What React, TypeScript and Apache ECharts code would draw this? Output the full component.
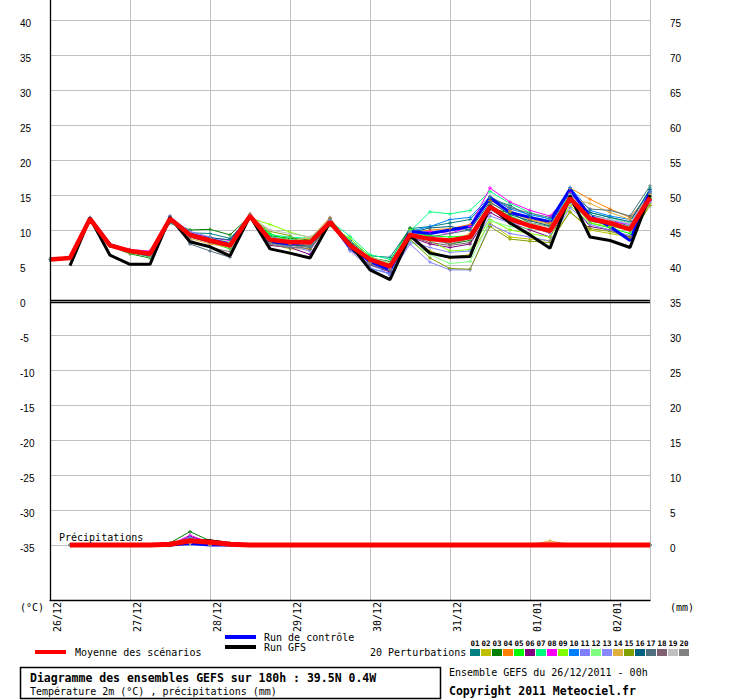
import React, { useEffect, useRef } from "react";
import * as echarts from "echarts";

// ---- time axis: 0..180h every 6h ----
const STEP_HOURS = 6;
const dayLabels = ["26/12", "27/12", "28/12", "29/12", "30/12", "31/12", "01/01", "02/01"];

// ---- main runs: 2m temperature (°C) ----
const meanTemp = [5.8, 6.0, 11.6, 7.8, 7.0, 6.6, 11.6, 9.3, 8.5, 7.8, 12.0, 8.6, 8.3, 8.2, 11.1, 7.8, 5.8, 4.8, 9.3, 8.7, 8.5, 9.0, 13.3, 11.6, 10.6, 9.9, 14.5, 11.6, 11.0, 10.1, 14.6];
const controlTemp = [5.8, 6.0, 11.7, 7.9, 7.0, 6.5, 11.5, 9.4, 8.6, 8.0, 12.1, 8.4, 8.0, 8.3, 11.2, 7.5, 5.5, 4.3, 9.8, 9.5, 10.0, 10.5, 14.6, 12.5, 11.8, 11.2, 15.8, 12.0, 10.5, 8.5, 15.5];
const gfsTemp = [null, 4.9, 11.7, 6.4, 5.1, 5.1, 11.8, 8.3, 7.6, 6.3, 12.0, 7.3, 6.7, 6.0, 11.1, 8.0, 4.3, 2.9, 9.2, 6.7, 6.1, 6.2, 13.5, 11.0, 9.3, 7.4, 14.9, 9.0, 8.5, 7.5, 15.0];

// ---- main runs: precipitation (mm) ----
const meanPrecip = [null, 0, 0, 0, 0, 0, 0.1, 0.6, 0.4, 0.1, 0, 0, 0, 0, 0, 0, 0, 0, 0, 0, 0, 0, 0, 0, 0, 0.05, 0, 0, 0, 0, 0];
const controlPrecip = [null, 0, 0, 0, 0, 0, 0, 0.2, 0, 0, 0, 0, 0, 0, 0, 0, 0, 0, 0, 0, 0, 0, 0, 0, 0, 0, 0, 0, 0, 0, 0];
const gfsPrecip = [null, 0, 0, 0, 0, 0, 0, 0.5, 0.6, 0.2, 0, 0, 0, 0, 0, 0, 0, 0, 0, 0, 0, 0, 0, 0, 0, 0, 0, 0, 0, 0, 0];

// ---- 20 perturbations ----
const memberNames = ["01", "02", "03", "04", "05", "06", "07", "08", "09", "10", "11", "12", "13", "14", "15", "16", "17", "18", "19", "20"];
const memberColors = ["#008080", "#c0c000", "#008000", "#ff8000", "#00ff00", "#800080", "#00ff80", "#ff00ff", "#80ff00", "#0080ff", "#8080ff", "#80ff80", "#8888ff", "#e0b040", "#80a000", "#006080", "#507080", "#806070", "#c0c0c0", "#808080"];

const p01Temp = [5.8, 6.0, 11.6, 7.8, 6.9, 6.4, 11.0, 9.6, 9.5, 8.8, 11.8, 9.0, 8.6, 8.5, 11.0, 8.5, 6.3, 6.1, 10.2, 10.5, 11.0, 11.5, 14.5, 13.5, 12.0, 10.8, 15.0, 12.2, 11.5, 10.5, 15.5];
const p02Temp = [5.8, 6.0, 11.6, 7.9, 7.0, 6.5, 11.5, 9.0, 8.3, 7.8, 12.1, 8.0, 7.3, 7.3, 11.2, 8.0, 5.5, 4.6, 9.0, 7.0, 6.0, 6.5, 11.0, 9.0, 8.7, 8.5, 12.6, 10.0, 9.5, 9.0, 13.8];
const p03Temp = [5.8, 6.0, 11.7, 7.7, 6.6, 6.0, 11.2, 10.0, 10.1, 9.3, 12.0, 9.2, 8.8, 8.6, 10.8, 8.3, 6.0, 5.5, 10.3, 9.0, 8.0, 8.5, 13.0, 12.5, 11.0, 10.5, 14.0, 11.5, 11.0, 10.0, 14.8];
const p04Temp = [5.8, 6.0, 11.6, 7.8, 7.0, 6.7, 11.7, 9.4, 8.6, 7.9, 12.3, 8.8, 8.0, 8.7, 11.8, 7.8, 5.2, 4.8, 9.6, 10.0, 10.2, 10.8, 14.2, 12.8, 11.5, 11.0, 16.0, 14.4, 13.0, 11.8, 15.2];
const p05Temp = [5.8, 6.0, 11.5, 7.8, 6.8, 6.3, 11.4, 9.2, 8.2, 7.3, 11.9, 9.5, 8.5, 8.0, 10.9, 8.0, 5.8, 5.0, 9.5, 9.2, 9.0, 9.2, 13.5, 12.0, 10.8, 10.0, 14.8, 11.0, 10.3, 9.5, 14.5];
const p06Temp = [5.8, 6.0, 11.6, 7.9, 7.1, 6.8, 11.8, 9.0, 8.2, 7.6, 11.8, 7.8, 7.5, 6.5, 11.0, 7.2, 5.0, 4.0, 9.0, 8.0, 7.5, 8.0, 12.5, 11.0, 10.0, 9.0, 14.0, 10.5, 10.0, 9.0, 14.2];
const p07Temp = [5.8, 6.0, 11.6, 7.8, 6.9, 6.5, 11.6, 9.5, 8.8, 8.2, 12.0, 9.3, 9.0, 8.8, 11.3, 9.1, 6.5, 5.8, 9.8, 12.6, 12.3, 12.8, 15.5, 13.8, 12.5, 11.5, 15.0, 12.5, 11.8, 11.0, 16.0];
const p08Temp = [5.8, 6.0, 11.7, 7.9, 7.2, 7.0, 11.9, 9.6, 8.9, 8.5, 12.2, 8.5, 8.2, 8.4, 11.4, 7.6, 5.3, 4.5, 9.4, 9.8, 9.5, 10.5, 16.0, 14.0, 12.8, 12.0, 15.3, 12.0, 11.2, 10.8, 15.8];
const p09Temp = [5.8, 6.0, 11.5, 7.7, 6.7, 6.2, 11.3, 9.3, 8.6, 8.0, 11.7, 10.8, 9.7, 8.9, 10.6, 8.8, 6.2, 5.2, 10.0, 8.5, 7.0, 7.2, 11.5, 10.0, 9.5, 9.0, 13.5, 11.0, 10.5, 10.0, 14.6];
const p10Temp = [5.8, 6.0, 11.6, 7.8, 6.9, 6.4, 11.5, 9.2, 8.4, 7.7, 12.1, 8.3, 8.1, 7.5, 11.0, 7.5, 4.5, 3.8, 9.8, 10.5, 11.5, 11.8, 14.8, 13.0, 12.2, 11.6, 16.1, 12.8, 12.0, 11.5, 15.4];
const p11Temp = [5.8, 6.0, 11.7, 7.9, 7.0, 6.6, 11.8, 9.8, 9.0, 8.0, 12.0, 8.5, 8.0, 8.0, 11.4, 8.2, 5.4, 3.5, 8.0, 5.4, 4.3, 4.3, 10.8, 9.5, 9.0, 8.4, 13.2, 10.8, 10.0, 9.2, 14.0];
const p12Temp = [5.8, 6.0, 11.6, 7.8, 6.8, 6.1, 11.2, 9.1, 8.7, 8.3, 12.0, 8.9, 8.6, 8.2, 10.9, 8.6, 5.9, 4.8, 8.4, 6.5, 5.2, 5.5, 11.3, 10.5, 10.2, 10.0, 14.0, 11.2, 10.8, 10.5, 15.0];
const p13Temp = [5.8, 6.0, 11.7, 7.8, 7.1, 6.9, 11.9, 9.7, 8.6, 7.5, 11.9, 8.1, 7.7, 7.0, 11.3, 7.0, 4.6, 3.7, 8.3, 7.5, 6.8, 7.0, 12.0, 11.0, 10.6, 9.5, 15.0, 12.0, 11.5, 10.8, 15.6];
const p14Temp = [5.8, 6.0, 11.6, 7.9, 7.0, 6.7, 11.6, 8.8, 8.0, 7.5, 12.2, 8.7, 8.4, 8.9, 11.6, 8.0, 5.2, 4.4, 9.2, 9.0, 8.2, 9.5, 13.8, 12.6, 11.4, 10.8, 14.5, 13.8, 12.5, 11.5, 15.0];
const p15Temp = [5.8, 6.0, 11.6, 7.8, 6.8, 6.3, 11.4, 9.1, 8.5, 7.8, 11.8, 9.8, 9.2, 7.3, 10.8, 7.8, 5.5, 4.7, 8.7, 6.0, 4.5, 4.4, 10.5, 8.7, 8.4, 8.2, 12.6, 10.2, 9.8, 9.0, 13.5];
const p16Temp = [5.8, 6.0, 11.6, 7.8, 6.9, 6.5, 11.5, 9.3, 8.9, 8.6, 12.0, 8.2, 7.8, 7.8, 10.7, 8.4, 5.9, 5.0, 9.6, 10.3, 10.5, 10.0, 14.0, 12.2, 11.3, 10.6, 14.6, 12.5, 11.8, 11.2, 15.8];
const p17Temp = [5.8, 6.0, 11.8, 7.8, 6.8, 6.2, 12.0, 8.0, 7.0, 6.1, 12.1, 8.2, 7.5, 7.6, 11.7, 7.3, 5.0, 4.2, 9.3, 9.0, 9.5, 10.0, 14.8, 13.2, 12.4, 11.8, 15.2, 13.0, 12.8, 12.0, 16.3];
const p18Temp = [5.8, 6.0, 11.6, 7.9, 7.0, 6.6, 11.7, 9.0, 8.3, 7.6, 12.1, 8.4, 7.9, 7.2, 11.1, 7.7, 5.6, 4.6, 9.1, 8.2, 7.8, 8.2, 13.2, 11.8, 10.8, 9.8, 14.2, 11.3, 10.7, 10.0, 14.4];
const p19Temp = [5.8, 6.0, 11.6, 7.8, 6.9, 6.4, 11.6, 9.4, 8.8, 8.2, 12.0, 10.0, 9.5, 9.0, 10.9, 8.2, 6.0, 5.4, 9.7, 8.8, 8.5, 8.7, 12.8, 11.5, 11.0, 10.4, 15.0, 12.0, 11.5, 11.0, 15.0];
const p20Temp = [5.8, 6.0, 11.7, 7.9, 7.1, 6.6, 11.8, 8.6, 7.5, 6.9, 12.2, 8.0, 7.4, 7.8, 11.5, 8.3, 5.2, 4.4, 9.0, 8.6, 8.0, 8.8, 13.0, 11.2, 10.5, 9.6, 14.3, 11.5, 11.0, 10.4, 15.2];

const p01Precip = [null, 0, 0, 0, 0, 0, 0, 1.2, 0.4, 0, 0, 0, 0, 0, 0, 0, 0, 0, 0, 0, 0, 0, 0, 0, 0, 0, 0, 0, 0, 0, 0];
const p02Precip = [null, 0, 0, 0, 0, 0, 0, 0.3, 0, 0, 0, 0, 0, 0, 0, 0, 0, 0, 0, 0, 0, 0, 0, 0, 0, 0, 0, 0, 0, 0, 0];
const p03Precip = [null, 0, 0, 0, 0, 0, 0.3, 1.9, 0.6, 0.2, 0, 0, 0, 0, 0, 0, 0, 0, 0, 0, 0, 0, 0, 0, 0, 0, 0, 0, 0, 0, 0];
const p04Precip = [null, 0, 0, 0, 0, 0, 0, 0.8, 0.3, 0, 0, 0, 0, 0, 0, 0, 0, 0, 0, 0, 0, 0, 0, 0, 0, 0, 0, 0, 0, 0, 0];
const p05Precip = [null, 0, 0, 0, 0, 0, 0, 0.5, 0, 0, 0, 0, 0, 0, 0, 0, 0, 0, 0, 0, 0, 0, 0, 0, 0, 0, 0, 0, 0, 0, 0];
const p06Precip = [null, 0, 0, 0, 0, 0, 0, 1.2, 0.5, 0, 0, 0, 0, 0, 0, 0, 0, 0, 0, 0, 0, 0, 0, 0, 0, 0, 0, 0, 0, 0, 0];
const p07Precip = [null, 0, 0, 0, 0, 0, 0, 0.4, 0, 0, 0, 0, 0, 0, 0, 0, 0, 0, 0, 0, 0, 0, 0, 0, 0, 0, 0, 0, 0, 0, 0];
const p08Precip = [null, 0, 0, 0, 0, 0, 0, 1.4, 0.3, 0, 0, 0, 0, 0, 0, 0, 0, 0, 0, 0, 0, 0, 0, 0, 0, 0, 0, 0, 0, 0, 0];
const p09Precip = [null, 0, 0, 0, 0, 0, 0, 0.6, 0, 0, 0, 0, 0, 0, 0, 0, 0, 0, 0, 0, 0, 0, 0, 0, 0, 0, 0, 0, 0, 0, 0];
const p10Precip = [null, 0, 0, 0, 0, 0, 0, 1.0, 0.4, 0, 0, 0, 0, 0, 0, 0, 0, 0, 0, 0, 0, 0, 0, 0, 0, 0, 0, 0, 0, 0, 0];
const p11Precip = [null, 0, 0, 0, 0, 0, 0, 0.9, 0, 0, 0, 0, 0, 0, 0, 0, 0, 0, 0, 0, 0, 0, 0, 0, 0, 0, 0, 0, 0, 0, 0];
const p12Precip = [null, 0, 0, 0, 0, 0, 0, 0.2, 0, 0, 0, 0, 0, 0, 0, 0, 0, 0, 0, 0, 0, 0, 0, 0, 0, 0, 0, 0, 0, 0, 0];
const p13Precip = [null, 0, 0, 0, 0, 0, 0, 1.1, 0.2, 0, 0, 0, 0, 0, 0, 0, 0, 0, 0, 0, 0, 0, 0, 0, 0, 0, 0, 0, 0, 0, 0];
const p14Precip = [null, 0, 0, 0, 0, 0, 0, 0.4, 0.6, 0.3, 0, 0, 0, 0, 0, 0, 0, 0, 0, 0, 0, 0, 0, 0, 0, 0.6, 0, 0, 0, 0, 0];
const p15Precip = [null, 0, 0, 0, 0, 0, 0, 0.7, 0, 0, 0, 0, 0, 0, 0, 0, 0, 0, 0, 0, 0, 0, 0, 0, 0, 0, 0, 0, 0, 0, 0];
const p16Precip = [null, 0, 0, 0, 0, 0, 0, 0.8, 0.2, 0, 0, 0, 0, 0, 0, 0, 0, 0, 0, 0, 0, 0, 0, 0, 0, 0, 0, 0, 0, 0, 0];
const p17Precip = [null, 0, 0, 0, 0, 0, 0, 0.3, 0, 0, 0, 0, 0, 0, 0, 0, 0, 0, 0, 0, 0, 0, 0, 0, 0, 0, 0, 0, 0, 0, 0];
const p18Precip = [null, 0, 0, 0, 0, 0, 0, 0.5, 0, 0, 0, 0, 0, 0, 0, 0, 0, 0, 0, 0, 0, 0, 0, 0, 0, 0, 0, 0, 0, 0, 0];
const p19Precip = [null, 0, 0, 0, 0, 0, 0, 0.2, 0, 0, 0, 0, 0, 0, 0, 0, 0, 0, 0, 0, 0, 0, 0, 0, 0, 0, 0, 0, 0, 0, 0];
const p20Precip = [null, 0, 0, 0, 0, 0, 0, 0.6, 0, 0, 0, 0, 0, 0, 0, 0, 0, 0, 0, 0, 0, 0, 0, 0, 0, 0, 0, 0, 0, 0, 0];

const memberTemps = [p01Temp, p02Temp, p03Temp, p04Temp, p05Temp, p06Temp, p07Temp, p08Temp, p09Temp, p10Temp, p11Temp, p12Temp, p13Temp, p14Temp, p15Temp, p16Temp, p17Temp, p18Temp, p19Temp, p20Temp];
const memberPrecips = [p01Precip, p02Precip, p03Precip, p04Precip, p05Precip, p06Precip, p07Precip, p08Precip, p09Precip, p10Precip, p11Precip, p12Precip, p13Precip, p14Precip, p15Precip, p16Precip, p17Precip, p18Precip, p19Precip, p20Precip];

const MONO = '"DejaVu Sans Mono", monospace';
const PLUS = "path://M2,0h1v2h2v1h-2v2h-1v-2h-2v-1h2z";

function toPoints(values: (number | null)[]) {
  const pts: [number, number][] = [];
  values.forEach((v, i) => {
    if (v !== null && v !== undefined) pts.push([i * STEP_HOURS, v]);
  });
  return pts;
}

export default function App() {
  const ref = useRef<HTMLDivElement>(null);

  useEffect(() => {
    if (!ref.current) return;
    const chart = echarts.init(ref.current, null, { renderer: "svg" });

    const series: any[] = [];
    memberTemps.forEach((vals, k) => {
      series.push({
        type: "line",
        name: "P" + memberNames[k],
        xAxisIndex: 1,
        yAxisIndex: 1,
        data: toPoints(vals),
        symbol: PLUS,
        symbolSize: 4,
        itemStyle: { color: memberColors[k], borderWidth: 0 },
        lineStyle: { color: memberColors[k], width: 1 },
        clip: false,
        silent: true,
      });
    });
    memberPrecips.forEach((vals, k) => {
      series.push({
        type: "line",
        name: "R" + memberNames[k],
        xAxisIndex: 1,
        yAxisIndex: 2,
        data: toPoints(vals),
        symbol: PLUS,
        symbolSize: 4,
        itemStyle: { color: memberColors[k], borderWidth: 0 },
        lineStyle: { color: memberColors[k], width: 1 },
        clip: false,
        silent: true,
      });
    });
    const main = (name: string, vals: (number | null)[], axis: number, color: string, width: number, z: number) => ({
      type: "line",
      name,
      xAxisIndex: 1,
      yAxisIndex: axis,
      data: toPoints(vals),
      symbol: "none",
      lineStyle: { color, width },
      clip: false,
      silent: true,
      z,
    });
    series.push(main("Run de contrôle", controlTemp, 1, "#0000ff", 3, 3));
    series.push(main("Run de contrôle P", controlPrecip, 2, "#0000ff", 3, 3));
    series.push(main("Run GFS", gfsTemp, 1, "#000000", 3, 4));
    series.push(main("Run GFS P", gfsPrecip, 2, "#000000", 3, 4));
    const meanT: any = main("Moyenne des scénarios", meanTemp, 1, "#ff0000", 4.5, 5);
    meanT.markLine = {
      silent: true,
      symbol: "none",
      label: { show: false },
      lineStyle: { color: "#000", width: 1.3, type: "solid" },
      data: [{ yAxis: 0 }, { yAxis: -0.3 }],
    };
    series.push(meanT);
    series.push(main("Moyenne P", meanPrecip, 2, "#ff0000", 5, 5));

    const txt = (x: number, y: number, text: string, font: string, extra: any = {}) => ({
      type: "text",
      x,
      y,
      z: 10,
      style: { text, font, fill: "#000000", verticalAlign: "middle", ...extra },
    });

    const graphic: any[] = [
      txt(59, 537, "Précipitations", `10px ${MONO}`),
      { type: "rect", shape: { x: 35, y: 650, width: 31, height: 4 }, style: { fill: "#ff0000" } },
      txt(75, 652, "Moyenne des scénarios", `10px ${MONO}`),
      { type: "rect", shape: { x: 225, y: 635, width: 31, height: 4 }, style: { fill: "#0000ff" } },
      txt(264, 637, "Run de contrôle", `10px ${MONO}`),
      { type: "rect", shape: { x: 225, y: 645, width: 31, height: 4 }, style: { fill: "#000000" } },
      txt(264, 647, "Run GFS", `10px ${MONO}`),
      txt(370, 652, "20 Perturbations", `10px ${MONO}`),
      { type: "rect", shape: { x: 20.5, y: 667.5, width: 420, height: 31 }, style: { fill: "#fff", stroke: "#000", lineWidth: 1.5 } },
      txt(30, 678, "Diagramme des ensembles GEFS sur 180h : 39.5N 0.4W", `bold 11.5px ${MONO}`),
      txt(30, 691, "Température 2m (°C) , précipitations (mm)", `10px ${MONO}`),
      txt(449, 672, "Ensemble GEFS du 26/12/2011 - 00h", `10px ${MONO}`),
      txt(449, 691, "Copyright 2011 Meteociel.fr", `bold 11.5px ${MONO}`),
      txt(20, 607, "(°C)", `10px ${MONO}`),
      txt(670, 607, "(mm)", `10px ${MONO}`),
    ];
    memberNames.forEach((n, k) => {
      graphic.push({ type: "rect", shape: { x: 470 + 11 * k, y: 649, width: 10, height: 7 }, style: { fill: memberColors[k] } });
      graphic.push(txt(475 + 11 * k, 643.5, n, `bold 7.5px ${MONO}`, { align: "center" }));
    });

    const option: any = {
      animation: false,
      backgroundColor: "#ffffff",
      grid: [
        { left: 50, right: 90, top: 0, bottom: 100 },
        { left: 50, right: 90, top: 20, bottom: 155 },
        { left: 57, right: 83, top: 0, bottom: 100 },
      ],
      xAxis: [
        {
          gridIndex: 0, type: "value", min: 0, max: 180, interval: 24,
          axisLine: { show: true, lineStyle: { color: "#000", width: 1.3 } },
          axisTick: { show: false }, axisLabel: { show: false },
          splitLine: { show: true, lineStyle: { color: "#c0c0c0", width: 1 } },
        },
        {
          gridIndex: 1, type: "value", min: 0, max: 180, show: false,
        },
        {
          gridIndex: 2, type: "value", min: 0, max: 180, interval: 24,
          axisLine: { show: false }, axisTick: { show: false }, splitLine: { show: false },
          axisLabel: {
            show: true, rotate: 90, margin: 2, fontFamily: MONO, fontSize: 10, color: "#000",
            showMinLabel: true, showMaxLabel: false,
            formatter: (v: number) => (v % 24 === 0 ? dayLabels[v / 24] || "" : ""),
          },
        },
      ],
      yAxis: [
        {
          gridIndex: 0, type: "value", min: 0, max: 1, position: "right", z: 6,
          axisLine: { show: true, lineStyle: { color: "#000", width: 1.3 } },
          axisTick: { show: false }, axisLabel: { show: false }, splitLine: { show: false },
        },
        {
          gridIndex: 1, type: "value", min: -35, max: 40, interval: 5, position: "left",
          axisLine: { show: false }, axisTick: { show: false },
          splitLine: { show: true, lineStyle: { color: "#c0c0c0", width: 1 } },
          axisLabel: {
            margin: 30, align: "left", verticalAlign: "top", lineHeight: 6,
            fontFamily: "Liberation Sans", fontSize: 10, color: "#000",
            showMinLabel: true, showMaxLabel: true,
          },
        },
        {
          gridIndex: 1, type: "value", min: 0, max: 75, interval: 5, position: "right",
          axisLine: { show: false }, axisTick: { show: false }, splitLine: { show: false },
          axisLabel: {
            margin: 20, align: "left", verticalAlign: "top", lineHeight: 6,
            fontFamily: "Liberation Sans", fontSize: 10, color: "#000",
            showMinLabel: true, showMaxLabel: true,
          },
        },
        { gridIndex: 2, type: "value", min: 0, max: 1, show: false },
      ],
      series,
      graphic,
    };

    chart.setOption(option);
    return () => chart.dispose();
  }, []);

  return <div ref={ref} style={{ position: "absolute", left: 0, top: 0, width: 740, height: 700, background: "#fff" }} />;
}
